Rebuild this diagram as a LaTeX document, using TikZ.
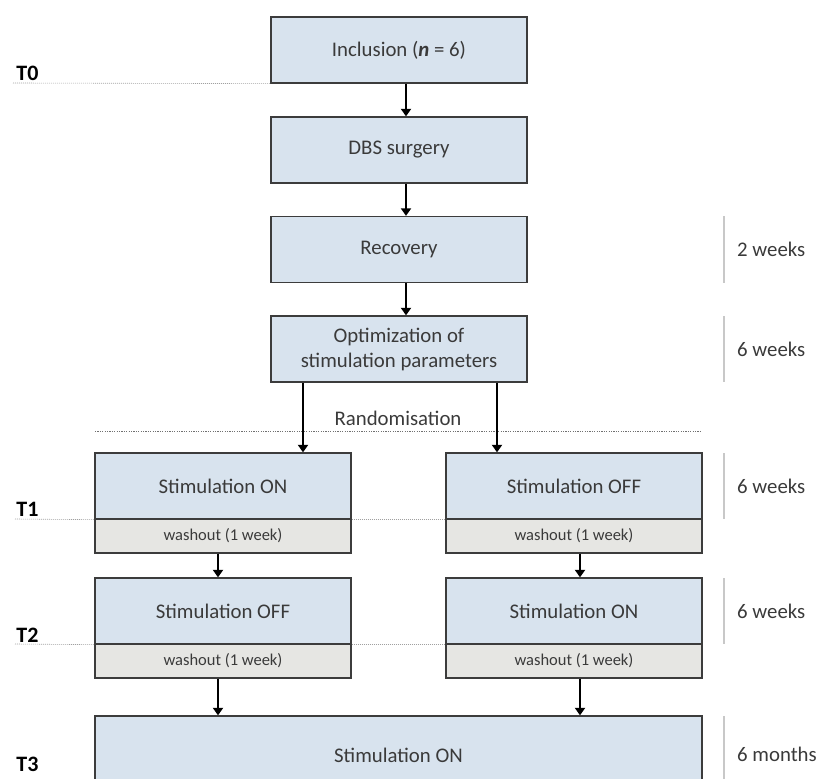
\documentclass[tikz,border=0pt]{standalone}
\usepackage{fontspec}
\setmainfont{Carlito}
\usetikzlibrary{arrows.meta,calc}
\definecolor{boxblue}{HTML}{D8E3EE}
\definecolor{washgrey}{HTML}{E6E6E3}
\definecolor{edgegrey}{HTML}{3C3C3C}
\definecolor{txtgrey}{HTML}{3A3A3A}
\definecolor{vlinegrey}{HTML}{C8C8C8}
\definecolor{dotgrey}{HTML}{A0A0A0}
\definecolor{randgrey}{HTML}{707070}
\begin{document}
\begin{tikzpicture}[x=1pt,y=-1pt,
  stagebox/.style={draw=edgegrey, line width=1.3pt, fill=boxblue, minimum width=256pt, minimum height=66pt, inner sep=0pt, text=txtgrey, font=\fontsize{20.8}{25}\selectfont, align=center},
  washbox/.style={draw=edgegrey, line width=1.3pt, fill=washgrey, minimum width=256pt, minimum height=34pt, inner sep=0pt, text=txtgrey, font=\fontsize{16.5}{19}\selectfont},
  arr/.style={draw=black, line width=2pt, -{Triangle[width=10pt,length=7.5pt]}},
  tlabel/.style={font=\fontsize{22}{24}\selectfont\bfseries, text=black, inner sep=0pt},
  dur/.style={font=\fontsize{20.8}{23}\selectfont, text=txtgrey, anchor=west, inner sep=0pt},
  tdot/.style={draw=dotgrey, line width=0.6pt, dash pattern=on 1pt off 1pt},
  rdot/.style={draw=randgrey, line width=0.8pt, dash pattern=on 1.2pt off 1.2pt},
  durline/.style={draw=vlinegrey, line width=1.2pt}]
\useasboundingbox (0,0) rectangle (818,778);

% timeline reference points
\coordinate (t0s) at (13,83);
\coordinate (t1s) at (15,519);
\coordinate (t2s) at (15,644);
\coordinate (rz1) at (95,431);
\coordinate (rz2) at (702,431);

% randomisation line and label
\draw[rdot] (rz1) -- (rz2);
\node[text=txtgrey, font=\fontsize{20.8}{23}\selectfont, inner sep=0pt] (rand) at (398,418) {Randomisation};

% main stages
\node[stagebox] (inc) at (399,50) {Inclusion (\textbf{\textit{n}} = 6)};
\node[stagebox] (dbs) at (399,150) {DBS surgery};
\node[stagebox] (rec) at (399,249.5) {Recovery};
\node[stagebox] (opt) at (399,349) {Optimization of\\stimulation parameters};

% period 1
\node[stagebox] (s1L) at (223,486) {Stimulation ON};
\node[washbox]  (w1L) at (223,536) {washout (1 week)};
\node[stagebox] (s1R) at (574,486) {Stimulation OFF};
\node[washbox]  (w1R) at (574,536) {washout (1 week)};

% period 2
\node[stagebox] (s2L) at (223,611) {Stimulation OFF};
\node[washbox]  (w2L) at (223,661) {washout (1 week)};
\node[stagebox] (s2R) at (574,611) {Stimulation ON};
\node[washbox]  (w2R) at (574,661) {washout (1 week)};

% open phase
\node[stagebox, minimum width=607pt, minimum height=78pt] (bot) at (398.5,755) {Stimulation ON};

% arrows
\draw[arr] ([xshift=7pt]inc.south) -- ([xshift=7pt]dbs.north);
\draw[arr] ([xshift=7pt]dbs.south) -- ([xshift=7pt]rec.north);
\draw[arr] ([xshift=7pt]rec.south) -- ([xshift=7pt]opt.north);
\draw[arr] ([xshift=-96pt]opt.south) -- ([xshift=-96pt]opt.south |- s1L.north);
\draw[arr] ([xshift=98pt]opt.south) -- ([xshift=98pt]opt.south |- s1R.north);
\draw[arr] ([xshift=-5pt]w1L.south) -- ([xshift=-5pt]s2L.north);
\draw[arr] ([xshift=6pt]w1R.south) -- ([xshift=6pt]s2R.north);
\draw[arr] ([xshift=-5pt]w2L.south) -- ([xshift=-5pt]w2L.south |- bot.north);
\draw[arr] ([xshift=6pt]w2R.south) -- ([xshift=6pt]w2R.south |- bot.north);

% time point dotted lines
\draw[tdot] (t0s) -- (inc.south west);
\draw[tdot] (t1s) -- (s1L.south west);
\draw[tdot] (s1L.south east) -- (s1R.south west);
\draw[tdot] (t2s) -- (s2L.south west);
\draw[tdot] (s2L.south east) -- (s2R.south west);

% time point labels
\node[tlabel] (T0) at (27.5,73) {T0};
\node[tlabel] (T1) at (27.5,509) {T1};
\node[tlabel] (T2) at (27.5,635) {T2};
\node[tlabel] (T3) at (27.5,764) {T3};

% durations
\draw[durline] (724,216) -- (724,283);
\node[dur] (d1) at (737,249.5) {2 weeks};
\draw[durline] (724,316) -- (724,382);
\node[dur] (d2) at (737,349) {6 weeks};
\draw[durline] (724,453) -- (724,519);
\node[dur] (d3) at (737,486) {6 weeks};
\draw[durline] (724,578) -- (724,644);
\node[dur] (d4) at (737,611) {6 weeks};
\draw[durline] (724,716) -- (724,800);
\node[dur] (d5) at (737,754) {6 months};
\end{tikzpicture}
\end{document}
